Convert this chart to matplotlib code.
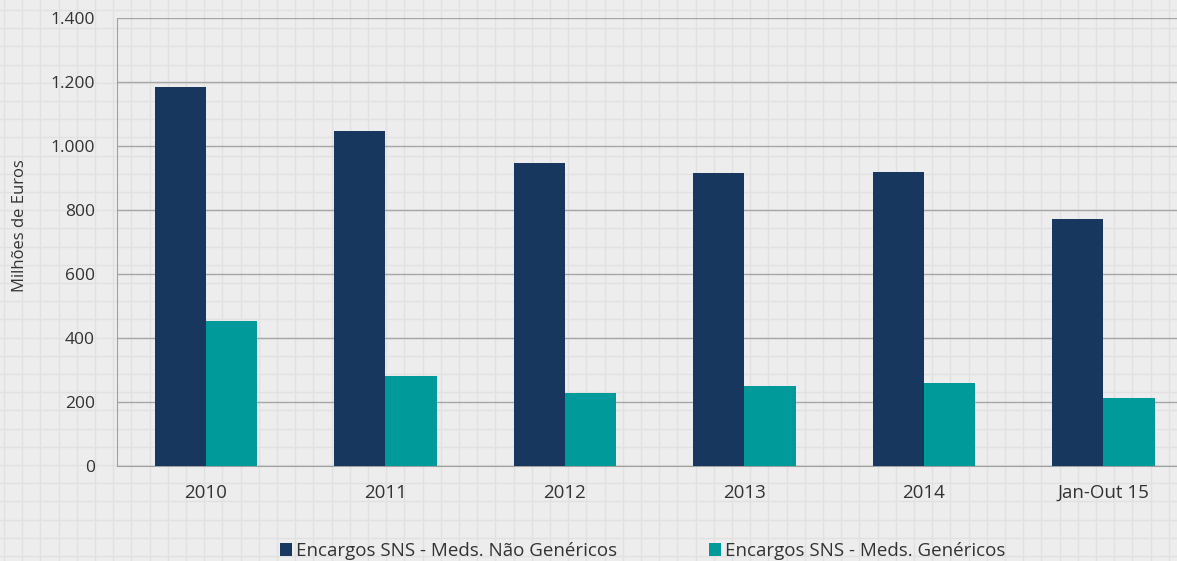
import numpy as np
from matplotlib import pyplot as plt
from matplotlib.ticker import FuncFormatter

categorias = ['2010', '2011', '2012', '2013', '2014', 'Jan-Out 15']
nao_genericos = [1184, 1047, 947, 916, 919, 772]
genericos = [453, 281, 228, 250, 259, 212]
serie_nomes = ['Encargos SNS - Meds. Não Genéricos', 'Encargos SNS - Meds. Genéricos']

plt.rcParams['font.family'] = ['Open Sans', 'DejaVu Sans']

fig = plt.figure(figsize=(11.77, 5.61), dpi=100, facecolor='#ededed')

# fundo quadriculado
bg = fig.add_axes([0, 0, 1, 1], zorder=-1)
bg.set_xlim(0, 1177)
bg.set_ylim(561, 0)
bg.set_facecolor('#ededed')
for x in np.arange(4, 1177, 18.2):
    bg.axvline(x, color='#e1e1e1', lw=1)
for y in np.arange(10, 561, 18.2):
    bg.axhline(y, color='#e1e1e1', lw=1)
bg.axis('off')

ax = fig.add_axes([117 / 1177, 1 - 466 / 561, 1 - 117 / 1177, 448 / 561])
ax.patch.set_alpha(0)

x = np.arange(len(categorias))
w = 0.285
ax.bar(x - w / 2, nao_genericos, w, color='#17375e', label=serie_nomes[0], zorder=3)
ax.bar(x + w / 2, genericos, w, color='#009a9a', label=serie_nomes[1], zorder=3)

ax.set_xlim(-0.495, 5.41)
ax.set_ylim(0, 1400)
ax.set_yticks(range(0, 1401, 200))
ax.yaxis.set_major_formatter(FuncFormatter(lambda v, p: f'{int(v):,}'.replace(',', '.')))
ax.set_xticks(x)
ax.set_xticklabels(categorias)
ax.grid(axis='y', color='#a6a6a6', lw=1, zorder=1)
ax.tick_params(length=0, colors='#333333')
ax.tick_params(axis='y', pad=16, labelsize=12.5)
ax.tick_params(axis='x', pad=13, labelsize=13.5)
for s in ['top', 'right']:
    ax.spines[s].set_visible(False)
for s in ['left', 'bottom']:
    ax.spines[s].set_color('#a0a0a0')
ax.set_ylabel('Milhões de Euros', fontsize=12, color='#333333')
ax.yaxis.set_label_coords(-0.084, 0.537)

fig.legend(loc='center', bbox_to_anchor=(0.546, 1 - 551 / 561), ncol=2, frameon=False,
           fontsize=13.5, handlelength=0.65, handleheight=0.65, handletextpad=0.2,
           columnspacing=4.9, labelcolor='#333333')

plt.savefig('out.png', facecolor=fig.get_facecolor())
